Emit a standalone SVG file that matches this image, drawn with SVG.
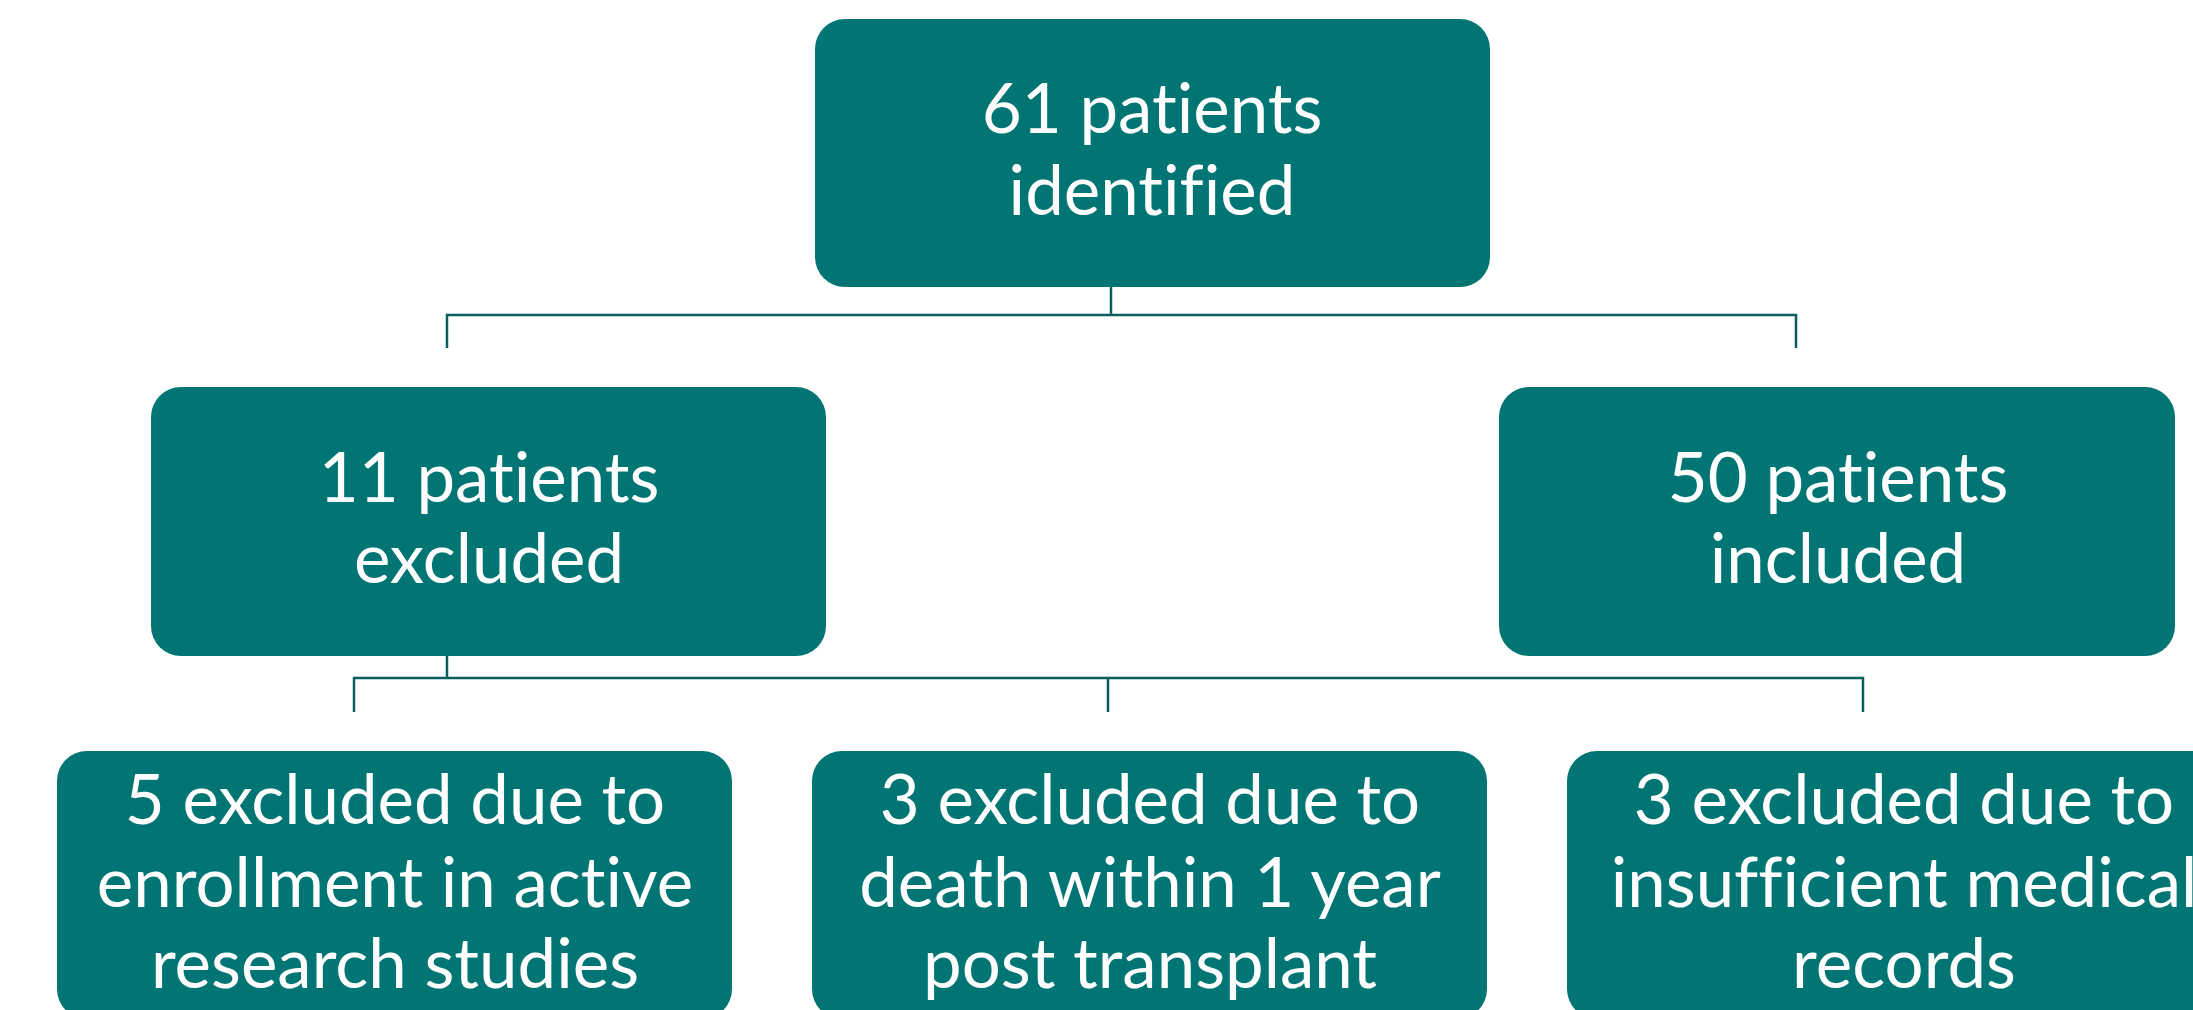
<svg xmlns="http://www.w3.org/2000/svg" width="2193" height="1010" viewBox="0 0 2193 1010">
<style>
.box{fill:#017474;}
.t{font-family:Lato,"Open Sans","Liberation Sans",sans-serif;font-size:69px;fill:#ffffff;text-anchor:middle;font-variant-ligatures:none;}
.c{fill:none;stroke:#0b5e5e;stroke-width:2.5;}
</style>
<rect width="2193" height="1010" fill="#ffffff"/>
<g id="connectors">
<path class="c" d="M1111,287 V315 M447,348 V315 H1796 V348"/>
<path class="c" d="M447,656 V678 M354,712 V678 H1863 V712 M1108,678 V712"/>
</g>
<g id="n-identified">
<rect class="box" x="815" y="19" width="675" height="268" rx="30"/>
<text class="t" x="1152" y="133">61 patients</text>
<text class="t" x="1152" y="215">identified</text>
</g>
<g id="n-excluded">
<rect class="box" x="151" y="387" width="675" height="269" rx="30"/>
<text class="t" x="489" y="502">11 patients</text>
<text class="t" x="489" y="583">excluded</text>
</g>
<g id="n-included">
<rect class="box" x="1499" y="387" width="676" height="269" rx="30"/>
<text class="t" x="1838" y="502">50 patients</text>
<text class="t" x="1838" y="583">included</text>
</g>
<g id="n-research">
<rect class="box" x="57" y="751" width="675" height="268" rx="30"/>
<text class="t" x="395" y="824">5 excluded due to</text>
<text class="t" x="395" y="907">enrollment in active</text>
<text class="t" x="395" y="988">research studies</text>
</g>
<g id="n-death">
<rect class="box" x="812" y="751" width="675" height="268" rx="30"/>
<text class="t" x="1150" y="824">3 excluded due to</text>
<text class="t" x="1150" y="907">death within 1 year</text>
<text class="t" x="1150" y="988">post transplant</text>
</g>
<g id="n-records">
<rect class="box" x="1567" y="751" width="675" height="268" rx="30"/>
<text class="t" x="1904" y="824">3 excluded due to</text>
<text class="t" x="1904" y="907">insufficient medical</text>
<text class="t" x="1904" y="988">records</text>
</g>
</svg>
